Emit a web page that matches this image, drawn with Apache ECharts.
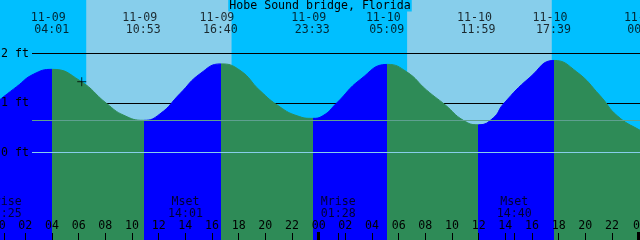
<!DOCTYPE html>
<html><head><meta charset="utf-8">
<script src="https://cdn.jsdelivr.net/npm/echarts@6/dist/echarts.min.js"></script>
<style>html,body{margin:0;padding:0;background:#00BFFF;}#c{width:640px;height:240px;}</style>
</head><body><div id="c"></div>
<script>
const chartTitle = 'Hobe Sound bridge, Florida';
// tide level readings: hours since 11-09 00:00 and level in ft
const curveHours = [0.1, 1.35, 2.6, 4.017, 6.1, 8.1, 9.4, 10.883, 12.1, 13.6, 15.1, 16.667, 18.1, 19.6, 21.1, 22.4, 23.55, 24.3, 25.35, 27.1, 29.15, 30.6, 32.1, 33.5, 34.85, 35.983, 37.1, 37.85, 39.85, 41.65, 43.35, 45.1, 46.4, 48.1, 48.5];
const curveFeet  = [1.07, 1.33, 1.58, 1.68, 1.45, 0.99, 0.75, 0.65, 0.78, 1.19, 1.59, 1.79, 1.66, 1.25, 0.92, 0.74, 0.69, 0.74, 1.00, 1.47, 1.78, 1.63, 1.26, 0.96, 0.65, 0.56, 0.70, 0.98, 1.52, 1.86, 1.63, 1.15, 0.74, 0.45, 0.42];
// high / low events
const eventDate  = ['11-09', '11-09', '11-09', '11-09', '11-10', '11-10', '11-10', '11-11'];
const eventClock = ['04:01', '10:53', '16:40', '23:33', '05:09', '11:59', '17:39', '00:30'];
const eventType  = ['high', 'low', 'high', 'low', 'high', 'low', 'high', 'low'];
// sun
const sunDate  = ['11-09', '11-09', '11-10', '11-10'];
const sunClock = ['06:34', '17:28', '06:38', '17:29'];
// moon
const moonDate  = ['11-09', '11-09', '11-10', '11-10'];
const moonClock = ['00:25', '14:01', '01:28', '14:40'];
const moonType  = ['Mrise', 'Mset', 'Mrise', 'Mset'];
// levels
const depthLines = [1, 2];
const datumLevel = 0;
const meanLevel = 0.65;
const levelLabels = [0, 1, 2];
const midnightDates = ['11-10', '11-11'];
const nowMark = [6.23, 1.43];
const HOUR_STEP = 2;

const NIGHT = '#00BFFF', DAY = '#87CEEB', RISE = '#0000FF', FALL = '#2E8B57';
const FONT = 'DejaVu Sans Mono', FS = 11.6;
const X_MIN = 0, X_MAX = 48.1, Y_MIN = -1.7677, Y_MAX = 3.0808;
const H = 240, PX_PER_FT = H / (Y_MAX - Y_MIN);
const pxToFt = px => Y_MAX - px / PX_PER_FT;
const LINE_START = 2.5;

function hoursOf(date, clock) {
  const d = +date.split('-')[1];
  const [hh, mm] = clock.split(':').map(Number);
  return (d - 9) * 24 + hh + mm / 60;
}
const eventHours = eventDate.map((d, i) => hoursOf(d, eventClock[i]));
const sunHours = sunDate.map((d, i) => hoursOf(d, sunClock[i]));
const moonHours = moonDate.map((d, i) => hoursOf(d, moonClock[i]));
const midnightHours = midnightDates.map(d => hoursOf(d, '00:00'));
const hourTicks = [];
for (let h = X_MIN; h <= X_MAX; h += HOUR_STEP) hourTicks.push(h);
// [hour, kind] kind 1 = normal tick, 2 = midnight mark
const tickData = hourTicks.map(h => [h, 1]).concat(moonHours.map(h => [h, 1])).concat(midnightHours.map(h => [h, 2]));

const pieces = [];
eventHours.forEach((h, i) => {
  const p = { lt: h, color: eventType[i] === 'high' ? RISE : FALL };
  if (i > 0) p.gte = eventHours[i - 1];
  pieces.push(p);
});
pieces.push({ gte: eventHours[eventHours.length - 1], color: eventType[eventType.length - 1] === 'high' ? FALL : RISE });

const dayAreas = [];
for (let i = 0; i + 1 < sunHours.length; i += 2) dayAreas.push([{ xAxis: sunHours[i] }, { xAxis: sunHours[i + 1] }]);

const hLine = v => [{ coord: [LINE_START, v], name: v + ' ft' }, { coord: [X_MAX, v] }];

const chart = echarts.init(document.getElementById('c'), null, { renderer: 'canvas' });
chart.setOption({
  animation: false,
  backgroundColor: NIGHT,
  title: {
    text: chartTitle, left: 'center', top: 0, padding: [0, 1, 0, 1], backgroundColor: NIGHT,
    textStyle: { fontFamily: FONT, fontSize: FS, fontWeight: 'normal', color: '#000', lineHeight: 11 }
  },
  grid: { left: -1.333, right: 0, top: 0, bottom: 0, show: false, containLabel: false, outerBoundsMode: 'none' },
  xAxis: {
    type: 'value', min: X_MIN, max: X_MAX, interval: HOUR_STEP, z: 10, position: 'bottom',
    axisLine: { show: false, onZero: false }, splitLine: { show: false },
    axisTick: { show: false },
    axisLabel: {
      show: true, inside: true, margin: 8, showMinLabel: true, showMaxLabel: true, hideOverlap: false,
      formatter: v => String(Math.round(v) % 24).padStart(2, '0'),
      fontFamily: FONT, fontSize: FS, color: '#000'
    }
  },
  yAxis: { type: 'value', min: Y_MIN, max: Y_MAX, show: false, splitLine: { show: false } },
  visualMap: { show: false, type: 'piecewise', dimension: 0, seriesIndex: 1, pieces: pieces },
  series: [
    {
      name: 'sky', type: 'line', data: [], z: 0, silent: true,
      markArea: { z: 0, silent: true, itemStyle: { color: DAY, opacity: 1, borderWidth: 0 }, data: dayAreas },
      markLine: { z: 1, silent: true, symbol: ['none', 'none'], label: { show: false },
        lineStyle: { color: '#000', width: 1, type: 'solid' }, data: depthLines.map(hLine) }
    },
    {
      name: 'tide', type: 'line', z: 2, silent: true, smooth: 0.5, showSymbol: false, symbol: 'none',
      lineStyle: { width: 1 }, areaStyle: { opacity: 1, origin: 'start' },
      data: curveHours.map((h, i) => [h, curveFeet[i]])
    },
    {
      name: 'datum', type: 'line', data: [], z: 3, silent: true,
      markLine: { z: 3, silent: true, symbol: ['none', 'none'], label: { show: false },
        data: [hLine(datumLevel), hLine(meanLevel)]
          .map((d, i) => { d[0].lineStyle = { color: i === 0 ? '#87CEEB' : '#5FA090', width: 1, type: 'solid' }; return d; })
      }
    },
    {
      name: 'levelLabels', type: 'line', data: [], z: 6, silent: true,
      markLine: { z: 6, silent: true, symbol: ['none', 'none'],
        lineStyle: { color: 'rgba(0,0,0,0)', width: 1 },
        label: { show: true, position: 'start', distance: 3, formatter: '{b}', fontFamily: FONT, fontSize: FS, color: '#000' },
        data: levelLabels.map(hLine)
      }
    },
    {
      name: 'ticks', type: 'custom', z: 7, silent: true, clip: false,
      data: tickData,
      renderItem: (params, api) => {
        const kind = api.value(1);
        const p = api.coord([api.value(0), Y_MIN]);
        const x = Math.floor(p[0]) + 0.5;
        const len = kind === 2 ? 8 : 7;
        return { type: 'line', shape: { x1: x, y1: p[1], x2: x, y2: p[1] - len },
          style: { stroke: '#000', lineWidth: kind === 2 ? 3 : 1 } };
      }
    },
    {
      name: 'events', type: 'scatter', z: 8, silent: true, clip: false, symbolSize: 1,
      itemStyle: { color: 'rgba(0,0,0,0)' },
      label: { show: true, position: 'inside', offset: [-4, 0], lineHeight: 12, fontFamily: FONT, fontSize: FS, color: '#000',
        formatter: p => eventDate[p.dataIndex] + '\n ' + eventClock[p.dataIndex] },
      data: eventHours.map(h => [h, pxToFt(23.5)])
    },
    {
      name: 'moon', type: 'scatter', z: 8, silent: true, clip: false, symbolSize: 1,
      itemStyle: { color: 'rgba(0,0,0,0)' },
      label: { show: true, position: 'inside', lineHeight: 12, fontFamily: FONT, fontSize: FS, color: '#000',
        formatter: p => moonType[p.dataIndex] + '\n' + moonClock[p.dataIndex] },
      data: moonHours.map(h => [h, pxToFt(207.5)])
    },
    {
      name: 'now', type: 'scatter', z: 9, silent: true, symbol: 'path://M0 4.5 L9 4.5 M4.5 0 L4.5 9', symbolSize: 9,
      itemStyle: { color: 'rgba(0,0,0,0)', borderColor: '#000', borderWidth: 1 },
      data: [nowMark]
    }
  ]
});
</script></body></html>
